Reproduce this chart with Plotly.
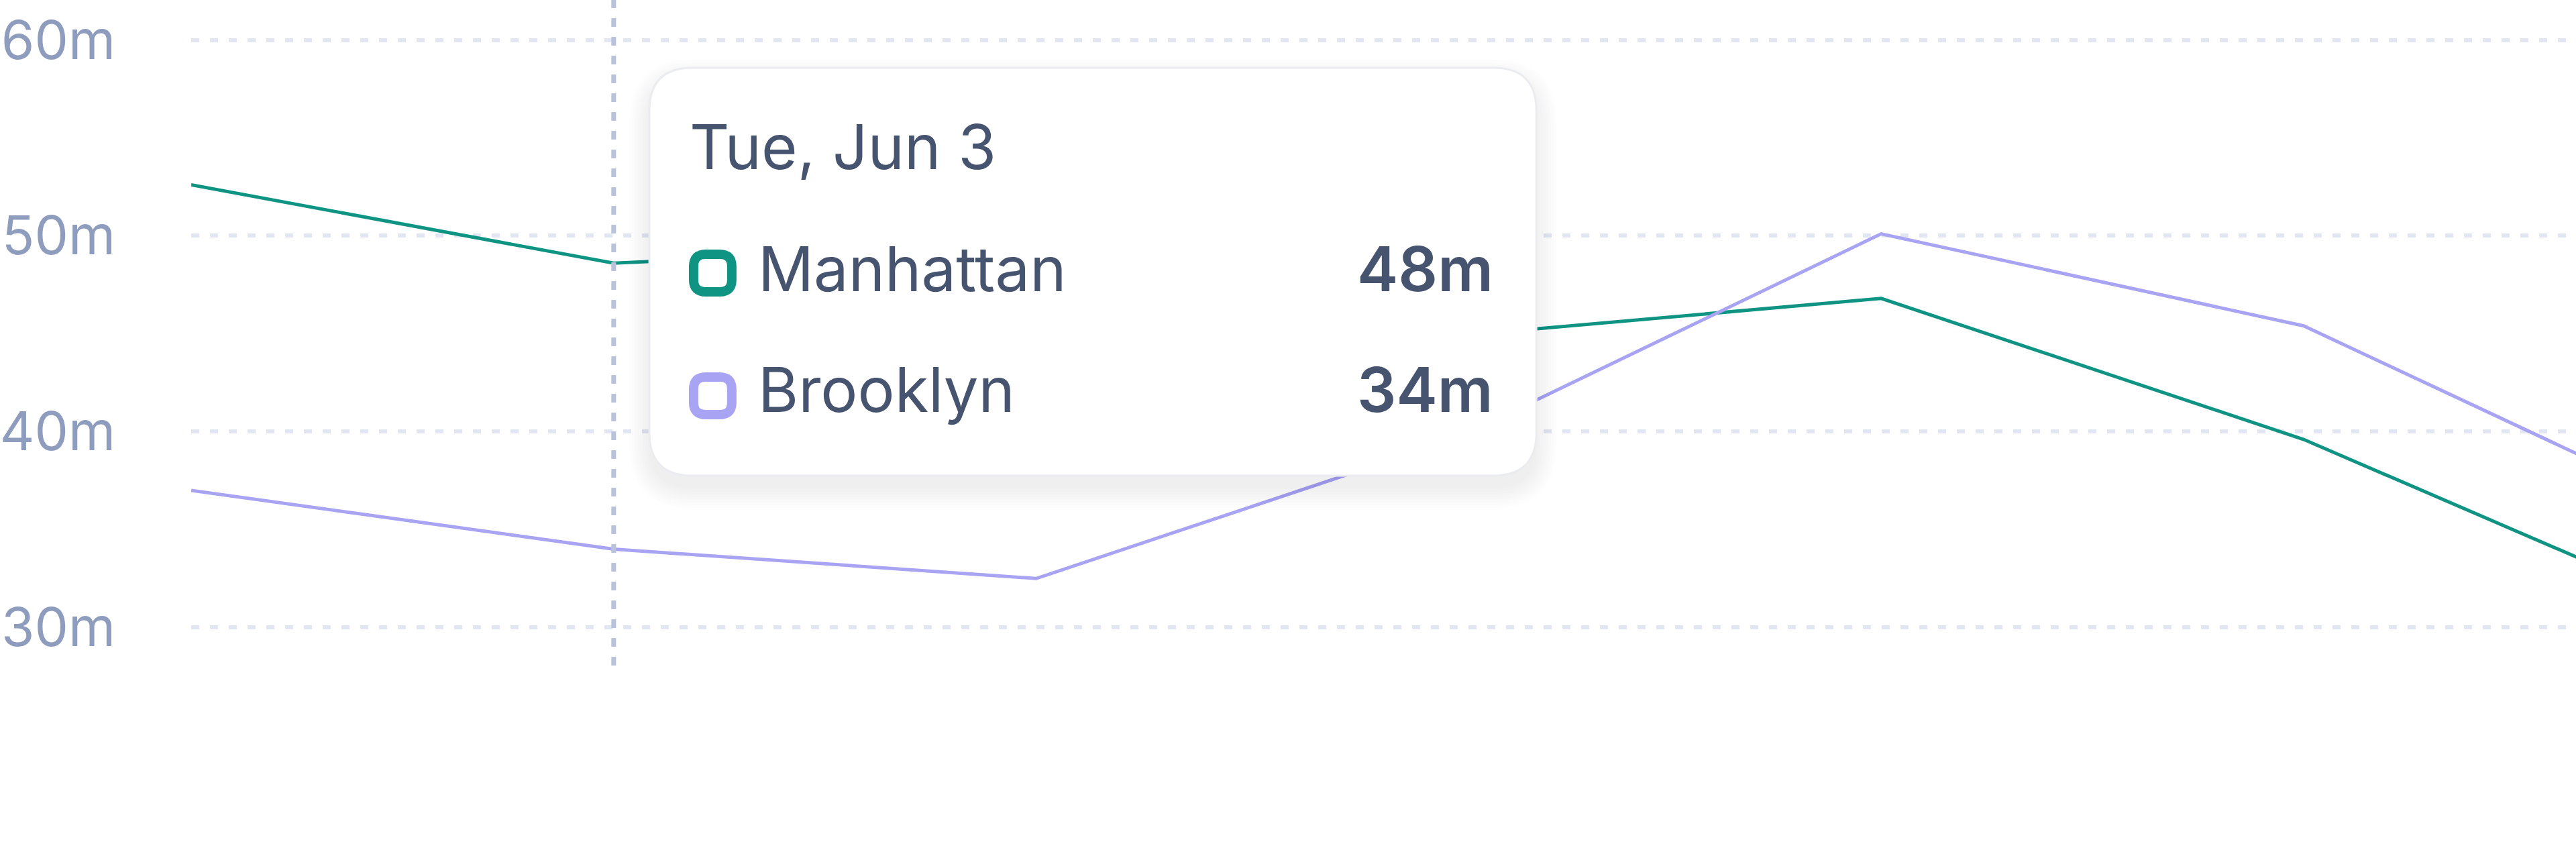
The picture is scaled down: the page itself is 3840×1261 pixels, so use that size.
import pandas as pd
import plotly.graph_objects as go

# daily values (minutes)
dates = ["2025-06-02", "2025-06-03", "2025-06-04", "2025-06-05",
         "2025-06-06", "2025-06-07", "2025-06-08"]
manhattan = [52.6, 48.6, 49.6, 44.9, 46.8, 39.6, 30.3]
brooklyn = [37.0, 34.0, 32.5, 39.7, 50.1, 45.4, 35.3]
series_names = ["Manhattan", "Brooklyn"]
y_ticks = [30, 40, 50, 60]
y_tick_text = ["30m", "40m", "50m", "60m"]
hover_idx = 1

teal = "#0f9484"
purple = "#a8a3f2"
text_col = "#475470"
tick_col = "#8e9dbe"

W, H = 3840, 1261
L = 280  # left margin in px


def px(p):
    return (p - L) / (W - L)


def py(p):
    return 1 - p / H


def rrect(x0, y0, x1, y1, r):
    # rounded rectangle path in paper coords from pixel box
    pts = [
        ("M", [(x0 + r, y0)]),
        ("L", [(x1 - r, y0)]),
        ("Q", [(x1, y0), (x1, y0 + r)]),
        ("L", [(x1, y1 - r)]),
        ("Q", [(x1, y1), (x1 - r, y1)]),
        ("L", [(x0 + r, y1)]),
        ("Q", [(x0, y1), (x0, y1 - r)]),
        ("L", [(x0, y0 + r)]),
        ("Q", [(x0, y0), (x0 + r, y0)]),
    ]
    out = ""
    for cmd, ps in pts:
        out += cmd + " ".join("%.6f,%.6f" % (px(a), py(b)) for a, b in ps) + " "
    return out + "Z"


fig = go.Figure()
fig.add_trace(go.Scatter(x=dates, y=manhattan, name=series_names[0], mode="lines",
                         line=dict(color=teal, width=5)))
fig.add_trace(go.Scatter(x=dates, y=brooklyn, name=series_names[1], mode="lines",
                         line=dict(color=purple, width=5)))

shapes = []
# hover guide line
shapes.append(dict(type="line", xref="x", yref="paper", x0=dates[hover_idx], x1=dates[hover_idx],
                   y0=py(992), y1=1, layer="above",
                   line=dict(color="#b9c3dc", width=7, dash="13px,15px")))

# tooltip shadow + box
bx0, by0, bx1, by1 = 964, 101, 2288, 709
rad = 64
for i in range(8):
    g = 2 + i * 4
    shapes.append(dict(type="path", xref="paper", yref="paper", layer="above",
                       path=rrect(bx0 - g, by0 - g + 18, bx1 + g, by1 + g + 18, rad + g),
                       fillcolor="rgba(30,40,60,0.006)", line=dict(width=0)))
shapes.append(dict(type="path", xref="paper", yref="paper", layer="above",
                   path=rrect(bx0, by0, bx1, by1, rad),
                   fillcolor="white", line=dict(color="#ebecf0", width=3)))

# legend swatches in tooltip
for col, top in [(teal, 372), (purple, 555)]:
    shapes.append(dict(type="path", xref="paper", yref="paper", layer="above",
                       path=rrect(1030, top + 7, 1087, top + 63, 18),
                       fillcolor="white", line=dict(color=col, width=14)))

d = pd.Timestamp(dates[hover_idx])
title = d.strftime("%a, %b ") + str(d.day)
fsize = 92
annotations = [dict(xref="paper", yref="paper", x=px(1022), y=py(218), text=title,
                    xanchor="left", yanchor="middle", showarrow=False,
                    font=dict(family="Inter", size=fsize, color=text_col))]
for name, vals, cy in [(series_names[0], manhattan, 400), (series_names[1], brooklyn, 581)]:
    annotations.append(dict(xref="paper", yref="paper", x=px(1124), y=py(cy), text=name,
                            xanchor="left", yanchor="middle", showarrow=False,
                            font=dict(family="Inter", size=fsize, color=text_col)))
    annotations.append(dict(xref="paper", yref="paper", x=px(2226), y=py(cy),
                            text="%dm" % int(vals[hover_idx]),
                            xanchor="right", yanchor="middle", showarrow=False,
                            font=dict(family="Inter", size=fsize, color=text_col, weight=600)))

x_end = pd.Timestamp(dates[0]) + pd.Timedelta(days=(W - L) / 630.7)

fig.update_layout(
    width=W, height=H,
    margin=dict(l=L, r=0, t=0, b=0),
    paper_bgcolor="white", plot_bgcolor="white",
    showlegend=False, hovermode=False,
    shapes=shapes, annotations=annotations,
    xaxis=dict(type="date", range=[dates[0], x_end.strftime("%Y-%m-%d %H:%M:%S")],
               showgrid=False, showticklabels=False, zeroline=False, showline=False),
    yaxis=dict(range=[18.84, 62.04], tickmode="array", tickvals=y_ticks, ticktext=y_tick_text,
               showgrid=True, gridcolor="#e2e6f2", gridwidth=6, griddash="12px,16px",
               zeroline=False, showline=False, ticks="", ticklabelstandoff=112,
               tickfont=dict(family="Inter", size=80, color=tick_col)),
)

fig.write_html("out.html", config={"displayModeBar": False},
               post_script="document.body.style.margin='0';")
